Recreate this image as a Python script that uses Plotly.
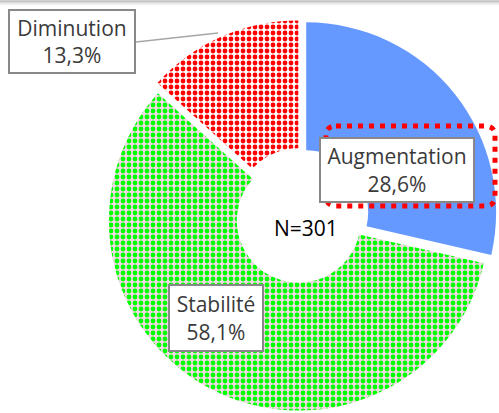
import plotly.graph_objects as go

# ---- data ----
categories = ["Augmentation", "Stabilité", "Diminution"]
percentages = [28.6, 58.1, 13.3]
value_labels = ["28,6%", "58,1%", "13,3%"]
total_n = 301

slice_bg = ["#6699FF", "#F4D7E4", "#FFFFFF"]
slice_fg = ["#6699FF", "#00FF00", "#FF0000"]
slice_shape = ["", ".", "."]
slice_pull = [0.035, 0.025, 0.035]

W, H = 499, 413


def px(x):
    return x / W


def py(y):
    return 1 - y / H


# pie geometry (pixels)
cx, cy, R = 301, 216.5, 190
half = R * (1 + max(slice_pull))
dom_x = [max(0, px(cx - half)), min(1, px(cx + half))]
dom_y = [max(0, py(cy + half)), min(1, py(cy - half))]

fig = go.Figure(
    go.Pie(
        labels=categories,
        values=percentages,
        sort=False,
        direction="clockwise",
        rotation=0,
        hole=62 / R,
        pull=slice_pull,
        textinfo="none",
        hoverinfo="skip",
        domain=dict(x=dom_x, y=dom_y),
        marker=dict(
            colors=slice_bg,
            line=dict(width=0),
            pattern=dict(
                shape=slice_shape,
                fgcolor=slice_fg,
                bgcolor=slice_bg,
                size=6,
                solidity=0.5,
                fillmode="replace",
            ),
        ),
    )
)

font = dict(family="Open Sans, Noto Sans, sans-serif", size=21, color="#3A3A3A")

# label boxes (center x, center y, width, height) in pixels
boxes = {
    "Diminution": (72, 41.5, 128, 65),
    "Augmentation": (397, 170, 156, 66),
    "Stabilité": (216, 318, 96, 68),
}

annotations = []
for cat, val in zip(categories, value_labels):
    bx, by, bw, bh = boxes[cat]
    annotations.append(
        dict(
            x=px(bx), y=py(by), xref="paper", yref="paper",
            xanchor="center", yanchor="middle",
            text=f"{cat}<br>{val}", showarrow=False,
            font=font, align="center", valign="middle",
            width=bw - 4, height=bh - 4, borderpad=0,
            bordercolor="#888888", borderwidth=2, bgcolor="#FFFFFF",
        )
    )

annotations.append(
    dict(
        x=px(306), y=py(228), xref="paper", yref="paper",
        xanchor="center", yanchor="middle",
        text=f"N={total_n}", showarrow=False,
        font=dict(family="Open Sans, Noto Sans, sans-serif", size=21, color="#000000"),
    )
)

shapes = []
# top shadow gradient
for i, c in enumerate(["#D0D0D0", "#C4C4C4", "#DADADA", "#E8E8E8", "#F2F2F2", "#F9F9F9"]):
    shapes.append(dict(type="rect", xref="paper", yref="paper",
                       x0=0, x1=1, y0=py(i + 1), y1=py(i),
                       fillcolor=c, line=dict(width=0), layer="above"))

# leader line for Diminution
shapes.append(dict(type="line", xref="paper", yref="paper",
                   x0=px(136), y0=py(42), x1=px(218), y1=py(33),
                   line=dict(color="#A6A6A6", width=1.5)))

# red dotted rounded rectangle around Augmentation
x0, x1, y0, y1, r = 326, 495, 126, 206, 10
path = (
    f"M {px(x0 + r)},{py(y0)} L {px(x1 - r)},{py(y0)} "
    f"Q {px(x1)},{py(y0)} {px(x1)},{py(y0 + r)} "
    f"L {px(x1)},{py(y1 - r)} Q {px(x1)},{py(y1)} {px(x1 - r)},{py(y1)} "
    f"L {px(x0 + r)},{py(y1)} Q {px(x0)},{py(y1)} {px(x0)},{py(y1 - r)} "
    f"L {px(x0)},{py(y0 + r)} Q {px(x0)},{py(y0)} {px(x0 + r)},{py(y0)} Z"
)
shapes.append(dict(type="path", xref="paper", yref="paper", path=path,
                   line=dict(color="#FF0000", width=5, dash="5px,6px"),
                   fillcolor="rgba(0,0,0,0)", layer="above"))

fig.update_layout(
    width=W, height=H,
    margin=dict(l=0, r=0, t=0, b=0),
    paper_bgcolor="#FFFFFF", plot_bgcolor="#FFFFFF",
    showlegend=False,
    annotations=annotations,
    shapes=shapes,
)

fig.write_html(
    "out.html",
    config={"displayModeBar": False},
    post_script="document.body.style.margin='0';document.body.style.overflow='hidden';",
)
